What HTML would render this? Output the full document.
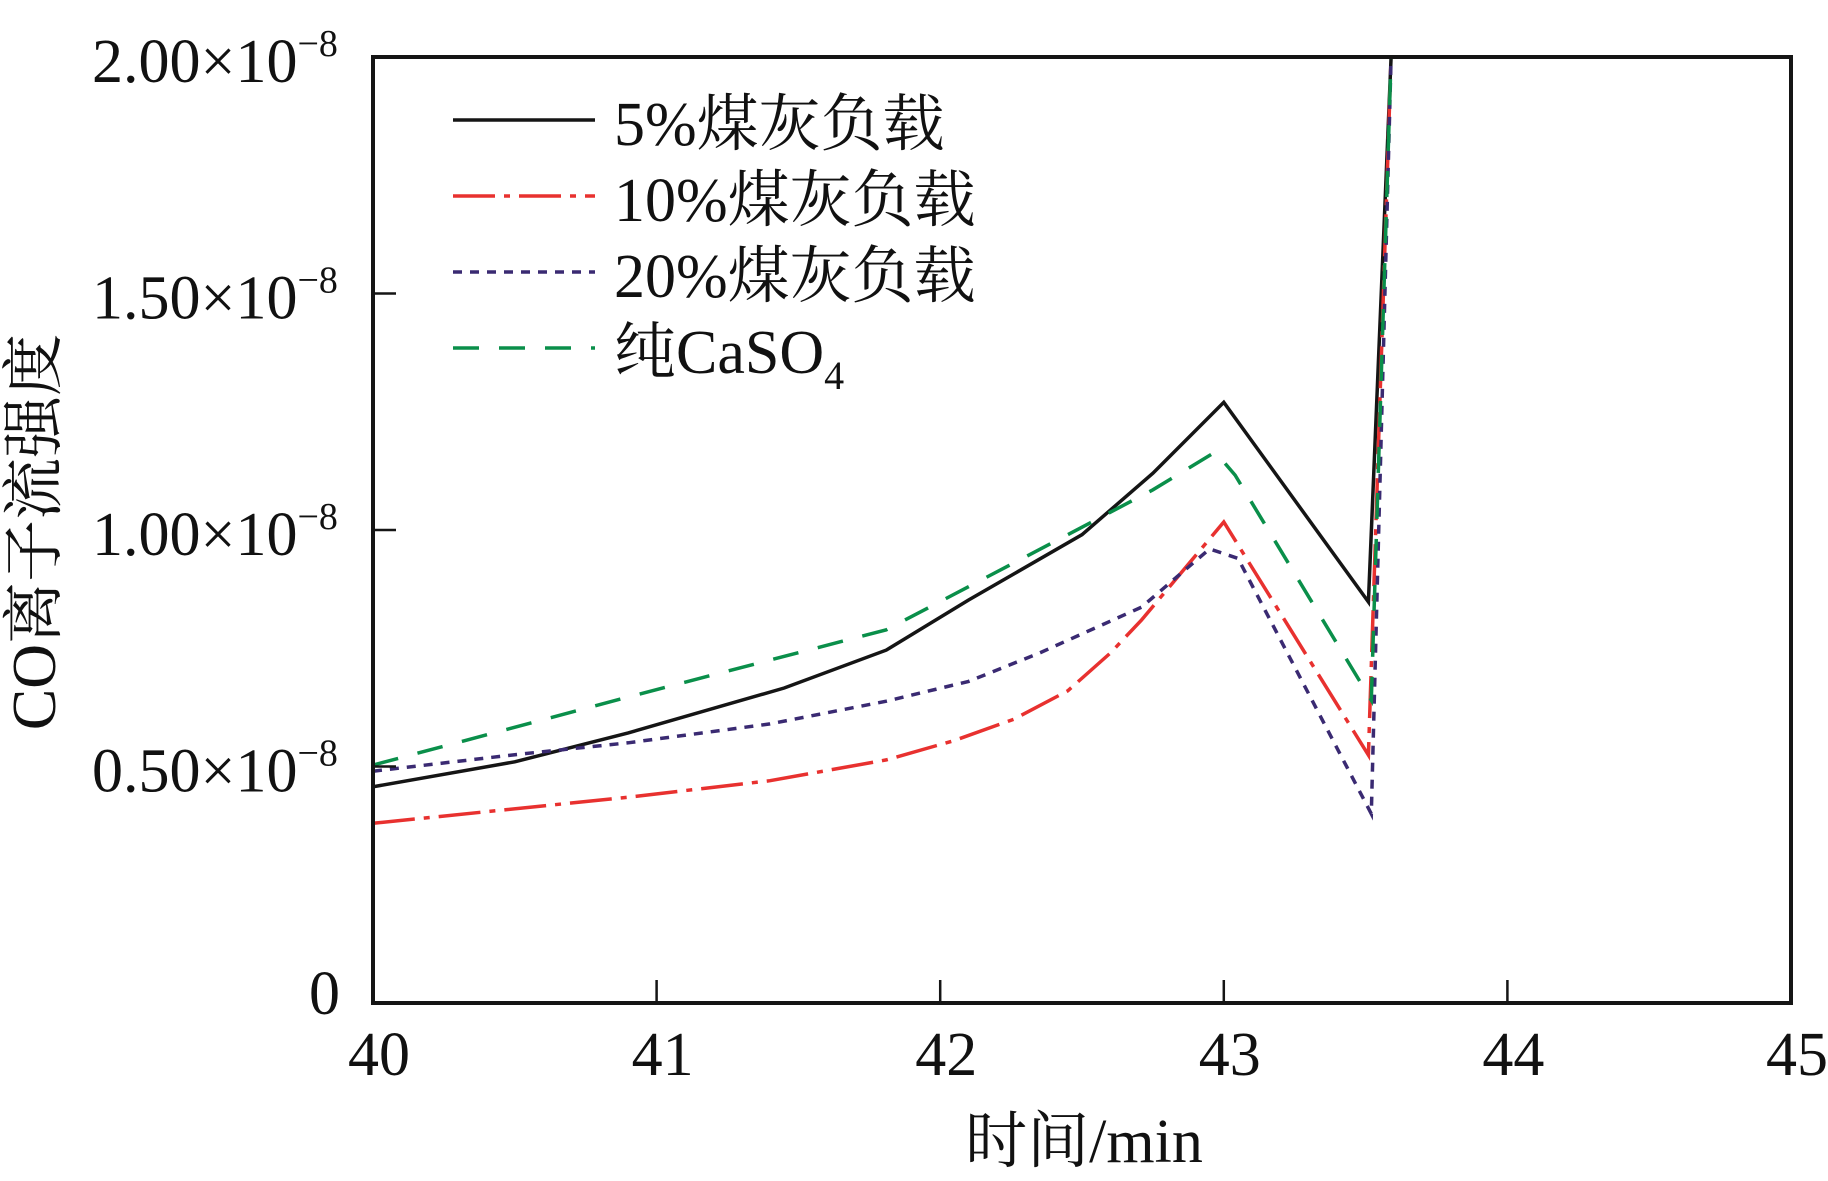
<!DOCTYPE html>
<html><head><meta charset="utf-8"><style>
html,body{margin:0;padding:0;background:#fff;}
svg{display:block;}
text{font-family:"Liberation Serif","Noto Serif CJK SC",serif;fill:#111;}
</style></head><body>
<svg id="chart" width="1828" height="1181" viewBox="0 0 1828 1181" xmlns="http://www.w3.org/2000/svg"></svg>
<script>
const xTicks = [40, 41, 42, 43, 44, 45];
const yTicks = [0, 0.5, 1.0, 1.5, 2.0];
const yTickLabels = ["0", "0.50", "1.00", "1.50", "2.00"];
const seriesNames = ["5%煤灰负载", "10%煤灰负载", "20%煤灰负载", "纯CaSO"];
const blackX = [40, 40.5, 40.9, 41.45, 41.81, 42.1, 42.5, 42.75, 43, 43.51, 43.59];
const blackY = [0.457, 0.51, 0.571, 0.666, 0.746, 0.852, 0.99, 1.12, 1.27, 0.848, 2.0];
const redX = [40, 40.9, 41.4, 41.81, 42.05, 42.26, 42.45, 42.6, 42.71, 43, 43.51, 43.59];
const redY = [0.38, 0.435, 0.47, 0.514, 0.555, 0.6, 0.66, 0.74, 0.81, 1.017, 0.524, 2.0];
const purpleX = [40, 40.5, 40.9, 41.4, 41.81, 42.1, 42.35, 42.71, 42.95, 43.05, 43.52, 43.59];
const purpleY = [0.49, 0.525, 0.55, 0.59, 0.638, 0.68, 0.74, 0.837, 0.96, 0.94, 0.40, 2.0];
const greenX = [40, 40.9, 41.81, 42.5, 42.75, 42.97, 43.04, 43.52, 43.59];
const greenY = [0.503, 0.647, 0.789, 1.006, 1.085, 1.165, 1.116, 0.64, 2.0];

const svg = document.getElementById('chart');
const NS = 'http://www.w3.org/2000/svg';
const L = 373, R = 1791, T = 57, B = 1003;
const xS = v => L + (v - 40) / 5 * (R - L);
const yS = v => B - v / 2 * (B - T);
function mk(tag, attrs, parent) {
  const e = document.createElementNS(NS, tag);
  for (const k in attrs) e.setAttribute(k, attrs[k]);
  (parent || svg).appendChild(e);
  return e;
}
const clip = mk('clipPath', {id: 'pc'});
mk('rect', {x: L, y: T - 2, width: R - L, height: B - T + 4}, clip);

const seriesX = [blackX, redX, purpleX, greenX];
const seriesY = [blackY, redY, purpleY, greenY];
const colors = ['#151515', '#e8312f', '#3a2a72', '#0a8f4a'];
const dashes = ['', '42 9 6 9', '9 8', '26 20'];
const seriesKeys = ['5pct', '10pct', '20pct', 'pure-caso4'];

for (let s = 0; s < 4; s++) {
  const pts = seriesX[s].map((x, i) => xS(x).toFixed(1) + ',' + yS(seriesY[s][i]).toFixed(1)).join(' ');
  const p = mk('polyline', {points: pts, fill: 'none', stroke: colors[s], 'stroke-width': 3.5, 'stroke-dasharray': dashes[s], 'stroke-linejoin': 'miter', 'clip-path': 'url(#pc)'});
  
  
}

const frame = mk('rect', {x: L, y: T, width: R - L, height: B - T, fill: 'none', stroke: '#151515', 'stroke-width': 4});



xTicks.forEach(v => {
  if (v > 40 && v < 45) {
    const t = mk('line', {x1: xS(v), x2: xS(v), y1: B, y2: B - 23, stroke: '#151515', 'stroke-width': 2.5});
    
    
  }
  const tx = mk('text', {x: xS(v) + 6, y: 1075, 'font-size': 62, 'text-anchor': 'middle'});
  tx.textContent = String(v);
  
  
});

yTicks.forEach((v, i) => {
  if (v > 0 && v < 2) {
    const t = mk('line', {x1: L, x2: L + 23, y1: yS(v), y2: yS(v), stroke: '#151515', 'stroke-width': 2.5});
    
    
  }
  if (v === 0) {
    const tx = mk('text', {x: 340, y: yS(v) + 11, 'font-size': 62, 'text-anchor': 'end'});
    tx.textContent = yTickLabels[i];
    
    
  } else {
    const tx = mk('text', {x: 92, y: yS(v) + 25, 'font-size': 62});
    
    
    const a = mk('tspan', {}, tx); a.textContent = yTickLabels[i] + '×10';
    const b = mk('tspan', {dy: -26, 'font-size': 38}, tx); b.textContent = '−8';
  }
});

const legendY = [120, 196, 272, 348];
for (let s = 0; s < 4; s++) {
  const ln = mk('line', {x1: 453, x2: 595, y1: legendY[s], y2: legendY[s], stroke: colors[s], 'stroke-width': 3.5, 'stroke-dasharray': dashes[s]});
  
  
  const tx = mk('text', {x: 614, y: legendY[s] + 25, 'font-size': 62});
  
  
  const a = mk('tspan', {}, tx); a.textContent = seriesNames[s];
  if (s === 3) { const b = mk('tspan', {dy: 16, 'font-size': 40}, tx); b.textContent = '4'; }
}

const xt = mk('text', {x: 1084, y: 1162, 'font-size': 62, 'text-anchor': 'middle'});
xt.textContent = '时间/min';



const yt = mk('text', {x: 0, y: 0, 'font-size': 62, 'text-anchor': 'middle', transform: 'translate(55,532) rotate(-90)'});
yt.textContent = 'CO离子流强度';


</script>
</body></html>
